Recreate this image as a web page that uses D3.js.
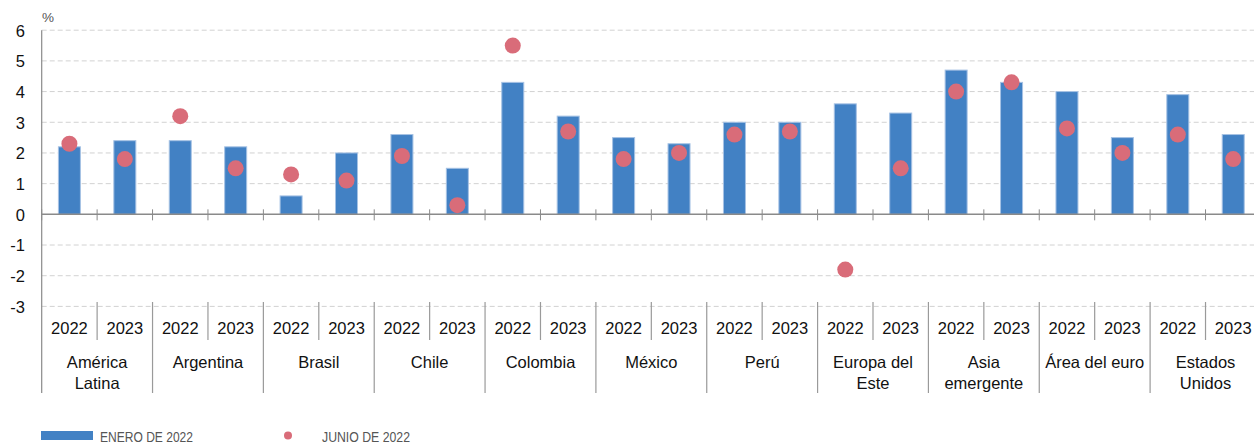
<!DOCTYPE html>
<html>
<head>
<meta charset="utf-8">
<script src="https://cdn.jsdelivr.net/npm/d3@7"></script>
<style>
  html, body { margin: 0; padding: 0; background: #fff; }
  svg { display: block; }
  text { font-family: "Liberation Sans", Arial, Helvetica, sans-serif; }
</style>
</head>
<body>
<svg id="chart" width="1254" height="443"></svg>
<script>
// Regions (multi-line labels split on "|") and forecast years
const regions = ["América|Latina", "Argentina", "Brasil", "Chile", "Colombia", "México", "Perú",
                 "Europa del|Este", "Asia|emergente", "Área del euro", "Estados|Unidos"];
const years = ["2022", "2023"];

// Growth forecasts (%), ordered region by region: 2022, 2023
const enero2022 = [2.2, 2.4,  2.4, 2.2,  0.6, 2.0,  2.6, 1.5,  4.3, 3.2,  2.5, 2.3,
                   3.0, 3.0,  3.6, 3.3,  4.7, 4.3,  4.0, 2.5,  3.9, 2.6];
const junio2022 = [2.3, 1.8,  3.2, 1.5,  1.3, 1.1,  1.9, 0.3,  5.5, 2.7,  1.8, 2.0,
                   2.6, 2.7, -1.8, 1.5,  4.0, 4.3,  2.8, 2.0,  2.6, 1.8];

const yTicks = [-3, -2, -1, 0, 1, 2, 3, 4, 5, 6];
const seriesNames = ["ENERO DE 2022", "JUNIO DE 2022"];

const svg = d3.select("#chart");
const left = 41.7, step = 55.42;
const slots = regions.flatMap((r, i) => years.map(y => ({ region: i, year: y })));
const keys = slots.map((d, i) => i);

const x = d3.scaleBand().domain(keys).range([left, left + step * keys.length]).padding(0);
const y = d3.scaleLinear().domain([-3, 6]).range([306.4, 30.2]);
const right = x.range()[1];
const barW = 22;

const blue = "#4281c4", red = "#d96c79", axisGrey = "#8a8a8a";

// Dashed gridlines
svg.append("g").selectAll("line").data(yTicks.filter(t => t !== 0)).join("line")
  .attr("x1", left).attr("x2", right)
  .attr("y1", d => y(d)).attr("y2", d => y(d))
  .attr("stroke", "#d2d2d2").attr("stroke-width", 1).attr("stroke-dasharray", "5,3");

// Y axis labels (plain hyphen for negatives)
const yAxis = d3.axisLeft(y).tickValues(yTicks).tickSize(0).tickPadding(0)
  .tickFormat(d => String(d));
const gy = svg.append("g").attr("transform", `translate(25,0)`).call(yAxis);
gy.select(".domain").remove();
gy.selectAll("text").attr("font-size", 16.5).attr("fill", "#111")
  .attr("font-family", "Liberation Sans, Arial, sans-serif").attr("dy", "0.36em");

svg.append("text").attr("x", 42).attr("y", 22).attr("font-size", 13.5).attr("fill", "#555").text("%");

// Bars (January forecast)
svg.append("g").selectAll("rect").data(enero2022).join("rect")
  .attr("x", (d, i) => x(i) + x.bandwidth() / 2 - barW / 2)
  .attr("width", barW)
  .attr("y", d => y(Math.max(0, d)))
  .attr("height", d => Math.abs(y(d) - y(0)))
  .attr("fill", blue).attr("stroke", "#a6c2e4").attr("stroke-width", 1);

// Zero line and tick marks at slot boundaries
svg.append("line").attr("x1", left).attr("x2", right).attr("y1", y(0)).attr("y2", y(0))
  .attr("stroke", axisGrey).attr("stroke-width", 1.5);
const bounds = d3.range(keys.length + 1).map(i => left + i * x.step());
svg.append("g").selectAll("line").data(bounds).join("line")
  .attr("x1", d => d).attr("x2", d => d).attr("y1", y(0) - 5).attr("y2", y(0) + 6)
  .attr("stroke", axisGrey).attr("stroke-width", 1);

// Y axis vertical line (extends through the category area)
svg.append("line").attr("x1", left).attr("x2", left).attr("y1", y(6)).attr("y2", 393)
  .attr("stroke", axisGrey).attr("stroke-width", 1.2);

// Dots (June forecast)
svg.append("g").selectAll("circle").data(junio2022).join("circle")
  .attr("cx", (d, i) => x(i) + x.bandwidth() / 2)
  .attr("cy", d => y(d))
  .attr("r", 8).attr("fill", red);

// Category area: separators
const sepTop = 302;
svg.append("g").selectAll("line").data(bounds.slice(1)).join("line")
  .attr("x1", d => d).attr("x2", d => d)
  .attr("y1", sepTop).attr("y2", (d, i) => (i % 2 === 1 ? 393 : 340))
  .attr("stroke", "#9a9a9a").attr("stroke-width", 1.2);

// Year labels
svg.append("g").selectAll("text").data(slots).join("text")
  .attr("x", (d, i) => x(i) + x.bandwidth() / 2)
  .attr("y", 334)
  .attr("text-anchor", "middle").attr("font-size", 16.5).attr("fill", "#111")
  .text(d => d.year);

// Region labels
const gReg = svg.append("g").selectAll("text").data(regions).join("text")
  .attr("text-anchor", "middle").attr("font-size", 16.5).attr("fill", "#111")
  .attr("transform", (d, i) => `translate(${x(i * 2) + x.step()},0)`);
gReg.each(function (d) {
  const lines = d.split("|");
  d3.select(this).selectAll("tspan").data(lines).join("tspan")
    .attr("x", 0).attr("y", (l, j) => 368 + j * 21).text(l => l);
});

// Legend
const leg = svg.append("g");
leg.append("rect").attr("x", 41).attr("y", 431).attr("width", 52).attr("height", 9).attr("fill", blue);
leg.append("text").attr("x", 100).attr("y", 441.5).attr("font-size", 15).attr("fill", "#555")
  .attr("font-family", "Liberation Sans Narrow, Arial Narrow, sans-serif")
  .attr("textLength", 93).attr("lengthAdjust", "spacingAndGlyphs").text(seriesNames[0]);
leg.append("circle").attr("cx", 288).attr("cy", 435.5).attr("r", 4).attr("fill", red);
leg.append("text").attr("x", 322).attr("y", 441.5).attr("font-size", 15).attr("fill", "#555")
  .attr("font-family", "Liberation Sans Narrow, Arial Narrow, sans-serif")
  .attr("textLength", 88).attr("lengthAdjust", "spacingAndGlyphs").text(seriesNames[1]);
</script>
</body>
</html>
